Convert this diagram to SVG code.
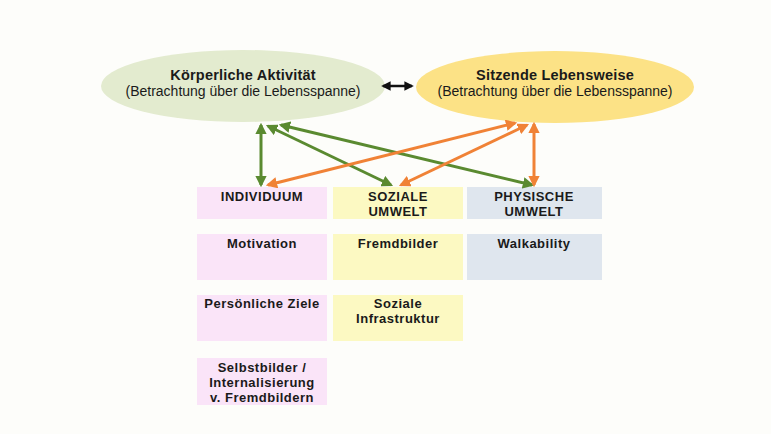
<svg xmlns="http://www.w3.org/2000/svg" width="771" height="434" viewBox="0 0 771 434">
<style>
text{font-family:"Liberation Sans",Arial,sans-serif;fill:#1a1a1a;text-anchor:middle}
.b{font-weight:bold;font-size:13px;letter-spacing:0.5px}
.t{font-weight:bold;font-size:14.5px;letter-spacing:0.2px}
.s{font-size:14px}
.pink{fill:#fae4f8}
.yel{fill:#fcf9c2}
.blu{fill:#dfe6ee}
.g{stroke:#5a8a30;stroke-width:3;fill:none}
.o{stroke:#f08236;stroke-width:3;fill:none}
.k{stroke:#111;stroke-width:2.5;fill:none}
</style>
<defs>
<marker id="mg" viewBox="0 0 10 10" refX="8" refY="5" markerWidth="3.8" markerHeight="3.8" orient="auto-start-reverse" markerUnits="strokeWidth"><path d="M0,0L10,5L0,10z" fill="#5a8a30"/></marker>
<marker id="mo" viewBox="0 0 10 10" refX="8" refY="5" markerWidth="3.8" markerHeight="3.8" orient="auto-start-reverse" markerUnits="strokeWidth"><path d="M0,0L10,5L0,10z" fill="#f08236"/></marker>
<marker id="mk" viewBox="0 0 10 10" refX="8" refY="5" markerWidth="3.8" markerHeight="3.8" orient="auto-start-reverse" markerUnits="strokeWidth"><path d="M0,0L10,5L0,10z" fill="#111"/></marker>
</defs>
<rect width="771" height="434" fill="#fdfdfa"/>
<g id="koerperliche-aktivitaet">
<ellipse cx="243" cy="86" rx="142" ry="36" fill="#e3ebcf"/>
<text class="t" x="243" y="80">Körperliche Aktivität</text>
<text class="s" x="243" y="96">(Betrachtung über die Lebensspanne)</text>
</g>
<g id="sitzende-lebensweise">
<ellipse cx="555" cy="87" rx="139" ry="36" fill="#fce286"/>
<text class="t" x="555" y="80">Sitzende Lebensweise</text>
<text class="s" x="555" y="96">(Betrachtung über die Lebensspanne)</text>
</g>
<g id="individuum">
<rect class="pink" x="197" y="187" width="130" height="32"/>
<text class="b" x="262" y="201">INDIVIDUUM</text>
</g>
<g id="soziale-umwelt">
<rect class="yel" x="333" y="187" width="130" height="32"/>
<text class="b" x="398" y="201">SOZIALE</text>
<text class="b" x="398" y="216">UMWELT</text>
</g>
<g id="physische-umwelt">
<rect class="blu" x="467" y="187" width="135" height="32"/>
<text class="b" x="534" y="201">PHYSISCHE</text>
<text class="b" x="534" y="216">UMWELT</text>
</g>
<g id="motivation">
<rect class="pink" x="197" y="234" width="130" height="46"/>
<text class="b" x="262" y="248">Motivation</text>
</g>
<g id="fremdbilder">
<rect class="yel" x="333" y="234" width="130" height="46"/>
<text class="b" x="398" y="248">Fremdbilder</text>
</g>
<g id="walkability">
<rect class="blu" x="467" y="234" width="135" height="46"/>
<text class="b" x="534" y="248">Walkability</text>
</g>
<g id="persoenliche-ziele">
<rect class="pink" x="197" y="295" width="130" height="46"/>
<text class="b" x="262" y="308">Persönliche Ziele</text>
</g>
<g id="soziale-infrastruktur">
<rect class="yel" x="333" y="295" width="130" height="46"/>
<text class="b" x="398" y="308">Soziale</text>
<text class="b" x="398" y="323">Infrastruktur</text>
</g>
<g id="selbstbilder">
<rect class="pink" x="197" y="358" width="130" height="47"/>
<text class="b" x="262" y="372">Selbstbilder /</text>
<text class="b" x="262" y="387">Internalisierung</text>
<text class="b" x="262" y="402">v. Fremdbildern</text>
</g>
<g id="connectors">
<line class="k" x1="383" y1="86" x2="412" y2="86" marker-start="url(#mk)" marker-end="url(#mk)"/>
<line class="g" x1="261" y1="125" x2="261" y2="185" marker-start="url(#mg)" marker-end="url(#mg)"/>
<line class="g" x1="268" y1="126" x2="391" y2="185" marker-start="url(#mg)" marker-end="url(#mg)"/>
<line class="g" x1="281" y1="125" x2="532" y2="185" marker-start="url(#mg)" marker-end="url(#mg)"/>
<line class="o" x1="268" y1="185" x2="515" y2="123" marker-start="url(#mo)" marker-end="url(#mo)"/>
<line class="o" x1="401" y1="185" x2="527" y2="125" marker-start="url(#mo)" marker-end="url(#mo)"/>
<line class="o" x1="534" y1="124" x2="534" y2="185" marker-start="url(#mo)" marker-end="url(#mo)"/>
</g>
</svg>
